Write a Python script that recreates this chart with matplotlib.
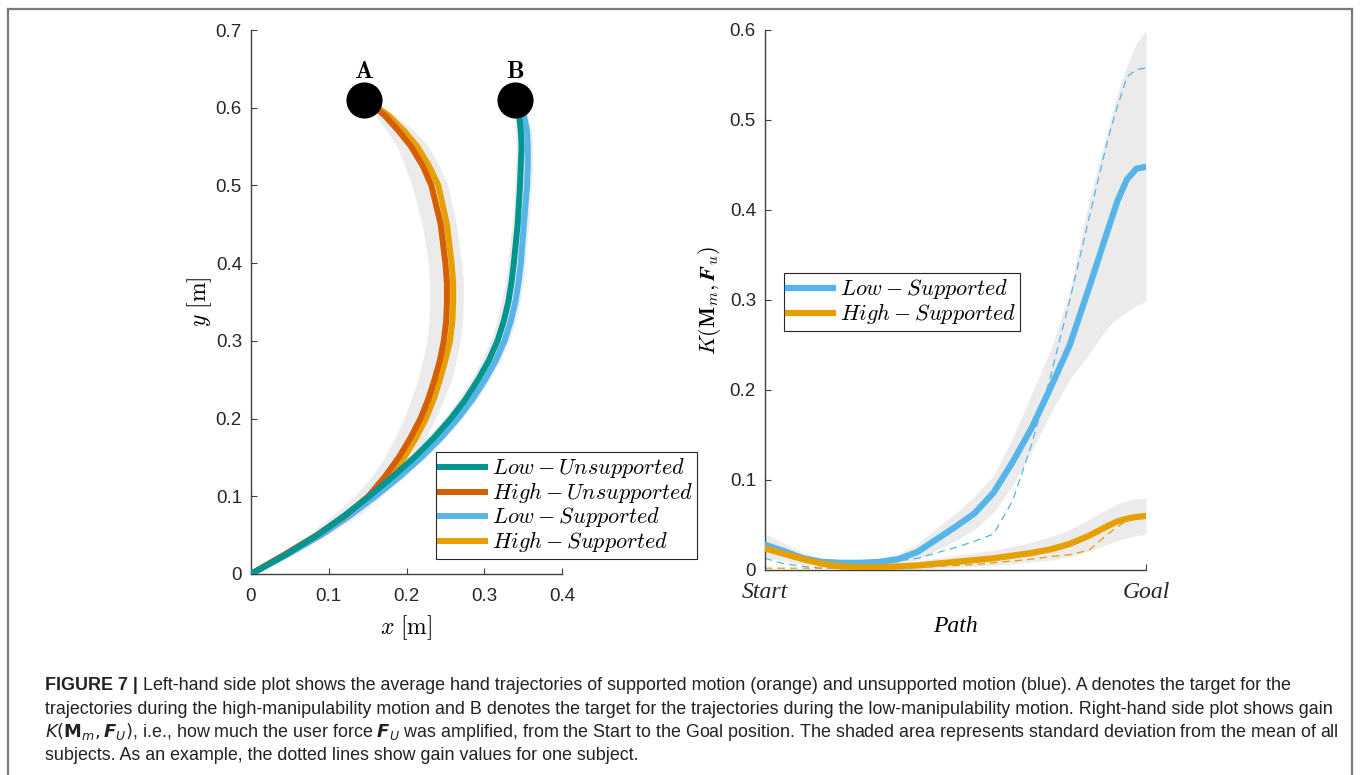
import matplotlib
matplotlib.use("Agg")
import matplotlib.pyplot as plt
from matplotlib.lines import Line2D

plt.rcParams.update({
    "font.family": ["Liberation Sans", "DejaVu Sans"],
    "mathtext.fontset": "cm",
    "axes.linewidth": 1.0,
    "axes.edgecolor": "#404040",
    "xtick.color": "#404040",
    "ytick.color": "#404040",
    "xtick.labelcolor": "#262626",
    "ytick.labelcolor": "#262626",
    "xtick.direction": "in",
    "ytick.direction": "in",
    "xtick.major.size": 4,
    "ytick.major.size": 4,
    "xtick.labelsize": 13.5,
    "ytick.labelsize": 13.5,
})

# ---- left plot: hand trajectories (x as a function of y) ----
traj_y = [0, 0.025, 0.05, 0.075, 0.1, 0.125, 0.15, 0.175, 0.2, 0.225, 0.25, 0.275, 0.3,
          0.325, 0.35, 0.375, 0.4, 0.45, 0.5, 0.525, 0.55, 0.57, 0.59, 0.6, 0.61]
low_unsup_x = [0, 0.045, 0.085, 0.12, 0.152, 0.182, 0.21, 0.235, 0.257, 0.276, 0.292, 0.306, 0.317,
               0.325, 0.331, 0.335, 0.338, 0.343, 0.346, 0.347, 0.348, 0.347, 0.345, 0.343, 0.34]
high_unsup_x = [0, 0.043, 0.085, 0.121, 0.151, 0.172, 0.19, 0.205, 0.218, 0.228, 0.236, 0.243, 0.248,
                0.251, 0.252, 0.252, 0.25, 0.244, 0.232, 0.221, 0.206, 0.19, 0.172, 0.16, 0.145]
low_sup_x = [0, 0.047, 0.09, 0.127, 0.16, 0.191, 0.219, 0.244, 0.266, 0.285, 0.301, 0.315, 0.326,
             0.334, 0.34, 0.344, 0.347, 0.351, 0.355, 0.356, 0.356, 0.355, 0.351, 0.347, 0.342]
high_sup_x = [0, 0.044, 0.087, 0.124, 0.156, 0.178, 0.197, 0.212, 0.225, 0.235, 0.243, 0.25, 0.256,
              0.259, 0.26, 0.26, 0.258, 0.252, 0.241, 0.229, 0.214, 0.197, 0.177, 0.163, 0.145]
# spread of the single trials (grey)
high_band_lo = [0, 0.036, 0.072, 0.105, 0.133, 0.155, 0.172, 0.185, 0.197, 0.206, 0.215, 0.221, 0.226,
                0.229, 0.23, 0.23, 0.228, 0.22, 0.207, 0.198, 0.188, 0.175, 0.16, 0.153, 0.145]
high_band_hi = [0, 0.05, 0.098, 0.138, 0.168, 0.192, 0.211, 0.225, 0.237, 0.248, 0.258, 0.264, 0.269,
                0.272, 0.273, 0.273, 0.271, 0.264, 0.253, 0.242, 0.228, 0.21, 0.185, 0.168, 0.145]
low_band_lo = [0, 0.038, 0.077, 0.111, 0.143, 0.173, 0.201, 0.226, 0.248, 0.267, 0.283, 0.297, 0.308,
               0.316, 0.322, 0.327, 0.33, 0.336, 0.339, 0.34, 0.341, 0.34, 0.339, 0.338, 0.34]
low_band_hi = [0, 0.052, 0.096, 0.133, 0.166, 0.197, 0.225, 0.25, 0.272, 0.291, 0.307, 0.321, 0.332,
               0.34, 0.346, 0.35, 0.353, 0.357, 0.361, 0.362, 0.362, 0.361, 0.356, 0.35, 0.342]

target_x = [0.145, 0.34]
target_y = [0.61, 0.61]
target_names = ["A", "B"]

# ---- right plot: gain along the path ----
path = [0, 0.05, 0.1, 0.15, 0.2, 0.25, 0.3, 0.35, 0.4, 0.45, 0.5,
        0.55, 0.6, 0.65, 0.7, 0.75, 0.8, 0.85, 0.9, 0.925, 0.95, 0.975, 1.0]
low_gain = [0.028, 0.021, 0.013, 0.009, 0.008, 0.008, 0.009, 0.012, 0.02, 0.034, 0.048,
            0.063, 0.086, 0.12, 0.158, 0.203, 0.25, 0.313, 0.378, 0.41, 0.434, 0.446, 0.448]
low_gain_lo = [0.018, 0.013, 0.008, 0.005, 0.005, 0.005, 0.006, 0.007, 0.011, 0.022, 0.033,
               0.045, 0.064, 0.094, 0.132, 0.175, 0.212, 0.24, 0.27, 0.28, 0.287, 0.294, 0.298]
low_gain_hi = [0.04, 0.03, 0.019, 0.013, 0.011, 0.011, 0.013, 0.018, 0.029, 0.046, 0.063,
               0.082, 0.105, 0.147, 0.196, 0.245, 0.31, 0.41, 0.49, 0.53, 0.56, 0.585, 0.6]
low_subject = [0.013, 0.007, 0.004, 0.002, 0.003, 0.005, 0.007, 0.01, 0.013, 0.019, 0.025,
               0.032, 0.04, 0.077, 0.14, 0.216, 0.3, 0.39, 0.479, 0.515, 0.548, 0.556, 0.558]
high_gain = [0.024, 0.018, 0.012, 0.007, 0.004, 0.003, 0.003, 0.004, 0.005, 0.007, 0.009,
             0.011, 0.013, 0.016, 0.019, 0.023, 0.029, 0.038, 0.049, 0.054, 0.057, 0.059, 0.06]
high_gain_lo = [0.014, 0.01, 0.006, 0.003, 0.001, 0.001, 0.001, 0.001, 0.001, 0.002, 0.003,
                0.004, 0.005, 0.007, 0.009, 0.011, 0.015, 0.021, 0.029, 0.033, 0.036, 0.038, 0.04]
high_gain_hi = [0.036, 0.027, 0.019, 0.012, 0.008, 0.006, 0.006, 0.008, 0.01, 0.013, 0.016,
                0.019, 0.022, 0.026, 0.031, 0.037, 0.045, 0.056, 0.068, 0.073, 0.077, 0.079, 0.08]
high_subject = [0.002, 0.002, 0.002, 0.002, 0.002, 0.002, 0.002, 0.002, 0.003, 0.004, 0.005,
                0.006, 0.008, 0.01, 0.012, 0.015, 0.017, 0.022, 0.04, 0.048, 0.055, 0.058, 0.06]

TEAL = "#00968f"
RED = "#d55e00"
BLUE = "#56b4e9"
ORANGE = "#e69f00"
GREY = "#ebebeb"

caption_lines = [
    " Left-hand side plot shows the average hand trajectories of supported motion (orange) and unsupported motion (blue). A denotes the target for the",
    "trajectories during the high-manipulability motion and B denotes the target for the trajectories during the low-manipulability motion. Right-hand side plot shows gain",
    r"$K(\mathbf{M}_m, \mathbfit{F}_U)$, i.e., how much the user force $\mathbfit{F}_U$ was amplified, from the Start to the Goal position. The shaded area represents standard deviation from the mean of all",
    "subjects. As an example, the dotted lines show gain values for one subject.",
]

W, H = 1360, 775
fig = plt.figure(figsize=(W / 100, H / 100), dpi=100)

# left axes
ax1 = fig.add_axes([251 / W, (H - 574) / H, 311 / W, 544 / H])
ax1.fill_betweenx(traj_y, high_band_lo, high_band_hi, color=GREY, lw=0, zorder=1)
ax1.fill_betweenx(traj_y, low_band_lo, low_band_hi, color=GREY, lw=0, zorder=1)
lw = 4.3
ax1.plot(high_sup_x, traj_y, color=ORANGE, lw=lw, label=r"$High-Supported$", zorder=3)
ax1.plot(low_sup_x, traj_y, color=BLUE, lw=lw, label=r"$Low-Supported$", zorder=3)
ax1.plot(high_unsup_x, traj_y, color=RED, lw=lw, label=r"$High-Unsupported$", zorder=4)
ax1.plot(low_unsup_x, traj_y, color=TEAL, lw=lw, label=r"$Low-Unsupported$", zorder=5)
ax1.plot(target_x, target_y, "o", color="black", ms=25, zorder=6)
for tx, ty, name in zip(target_x, target_y, target_names):
    ax1.text(tx, ty + 0.037, r"$\mathbf{%s}$" % name, ha="center", va="center", fontsize=18)

ax1.set_xlim(0, 0.4)
ax1.set_ylim(0, 0.7)
ax1.set_xticks([0, 0.1, 0.2, 0.3, 0.4])
ax1.set_xticklabels(["0", "0.1", "0.2", "0.3", "0.4"])
ax1.set_yticks([0, 0.1, 0.2, 0.3, 0.4, 0.5, 0.6, 0.7])
ax1.set_yticklabels(["0", "0.1", "0.2", "0.3", "0.4", "0.5", "0.6", "0.7"])
ax1.tick_params(axis="x", pad=10)
ax1.tick_params(axis="y", pad=6.5)
ax1.spines[["top", "right"]].set_visible(False)
ax1.set_xlabel(r"$x\ [\mathrm{m}]$", fontsize=17)
ax1.set_ylabel(r"$y\ [\mathrm{m}]$", fontsize=17)
ax1.xaxis.set_label_coords(0.5, -0.072)
ax1.yaxis.set_label_coords(-0.12, 0.5)

handles, labels = ax1.get_legend_handles_labels()
order = [3, 2, 1, 0]
leg_kw = dict(loc="upper left", bbox_transform=fig.transFigure, fontsize=16, frameon=True,
              fancybox=False, edgecolor="#262626", framealpha=1, handlelength=2.0,
              handletextpad=0.3, labelspacing=0.0, borderpad=0.2, borderaxespad=0)
leg1 = ax1.legend([handles[i] for i in order], [labels[i] for i in order],
                  bbox_to_anchor=(436 / W, 1 - 452 / H), **leg_kw)
leg1.get_frame().set_linewidth(0.8)

# right axes
ax2 = fig.add_axes([765 / W, (H - 570) / H, 381 / W, 540 / H])
ax2.fill_between(path, low_gain_lo, low_gain_hi, color=GREY, lw=0, zorder=1)
ax2.fill_between(path, high_gain_lo, high_gain_hi, color=GREY, lw=0, zorder=1)
ax2.plot(path, low_subject, color=BLUE, lw=0.9, ls=(0, (6, 4)), zorder=2)
ax2.plot(path, high_subject, color=ORANGE, lw=0.9, ls=(0, (6, 4)), zorder=2)
ax2.plot(path, low_gain, color=BLUE, lw=4.5, label=r"$Low-Supported$", zorder=3)
ax2.plot(path, high_gain, color=ORANGE, lw=4.5, label=r"$High-Supported$", zorder=4)

ax2.set_xlim(0, 1)
ax2.set_ylim(0, 0.6)
ax2.set_xticks([0, 1])
ax2.set_xticklabels(["Start", "Goal"], fontfamily="Liberation Serif", fontstyle="italic", fontsize=17)
ax2.set_yticks([0, 0.1, 0.2, 0.3, 0.4, 0.5, 0.6])
ax2.set_yticklabels(["0", "0.1", "0.2", "0.3", "0.4", "0.5", "0.6"])
ax2.tick_params(axis="x", pad=9)
ax2.tick_params(axis="y", pad=6.5)
ax2.spines[["top", "right"]].set_visible(False)
ax2.set_xlabel("Path", fontfamily="Liberation Serif", fontstyle="italic", fontsize=17)
ax2.set_ylabel(r"$K(\mathbf{M}_m, \mathbfit{F}_u)$", fontsize=16)
ax2.xaxis.set_label_coords(0.5, -0.085)
ax2.yaxis.set_label_coords(-0.11, 0.5)

leg2 = ax2.legend(bbox_to_anchor=(784 / W, 1 - 273 / H), **leg_kw)
leg2.get_frame().set_linewidth(0.8)

# frame around figure
frame_kw = dict(transform=fig.transFigure, color="#7a7a7a", lw=1.6)
fig.add_artist(Line2D([8 / W, 8 / W], [0, 1 - 9 / H], **frame_kw))
fig.add_artist(Line2D([1352 / W, 1352 / W], [0, 1 - 9 / H], **frame_kw))
fig.add_artist(Line2D([8 / W, 1352 / W], [1 - 9 / H, 1 - 9 / H], **frame_kw))

# caption
renderer = fig.canvas.get_renderer()
cap_size = 12.85
cap_y = [686, 709, 732, 755]
head = fig.text(45 / W, 1 - cap_y[0] / H, "FIGURE 7 |", fontsize=cap_size,
                fontweight="bold", color="#222222", va="center")
head_w = head.get_window_extent(renderer=renderer).width
for i, line in enumerate(caption_lines):
    x0 = 45 + (head_w if i == 0 else 0)
    fig.text(x0 / W, 1 - cap_y[i] / H, line, fontsize=cap_size, color="#222222",
             va="center", math_fontfamily="dejavusans")

fig.savefig("out.png", dpi=100)
